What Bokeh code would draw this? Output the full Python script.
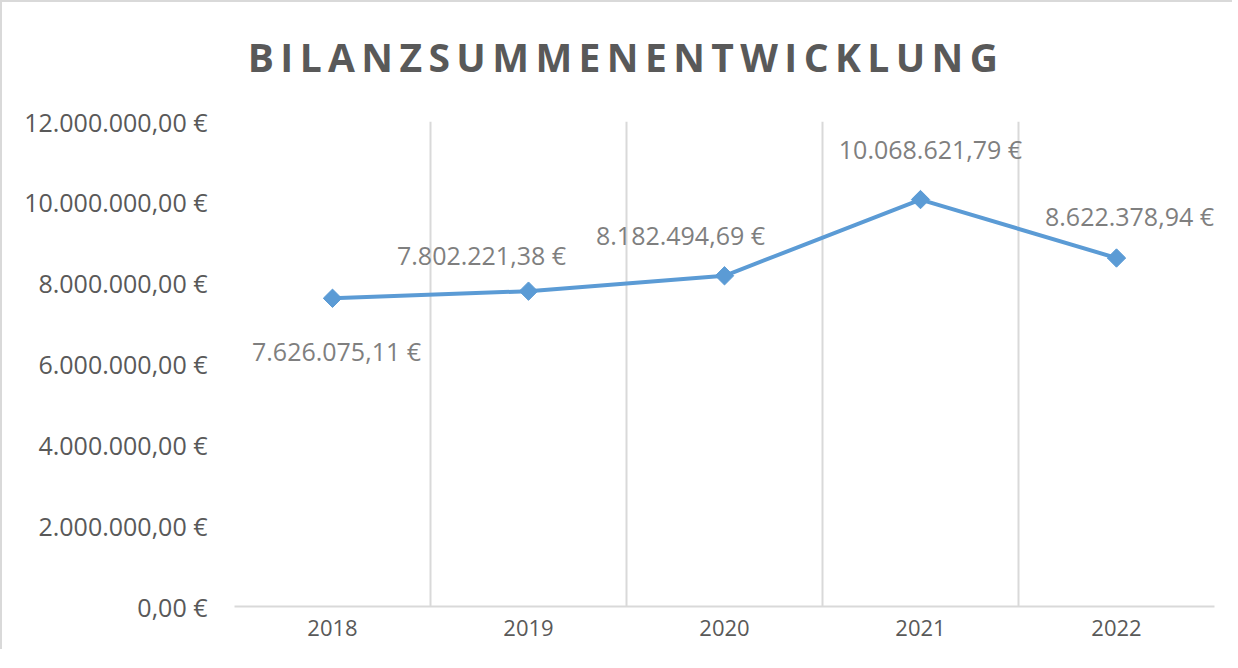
import math
from bokeh.plotting import figure
from bokeh.models import (ColumnDataSource, LabelSet, FixedTicker, Range1d,
                          CustomJSTickFormatter, Div)
from bokeh.core.properties import value
from bokeh.layouts import column
from bokeh.embed import file_html
from bokeh.resources import INLINE

# ---- data ----
years = ["2018", "2019", "2020", "2021", "2022"]
totals = [7626075.11, 7802221.38, 8182494.69, 10068621.79, 8622378.94]
y_ticks = [0, 2000000, 4000000, 6000000, 8000000, 10000000, 12000000]
title_text = "BILANZSUMMENENTWICKLUNG"

# ---- label placement (screen px, style only) ----
label_dx = [4, -47, -44, 10, 13]
label_dy = [-53, 36, 41, 51, 42]


def fmt_eur(v):
    s = f"{v:,.2f}"
    s = s.replace(",", "X").replace(".", ",").replace("X", ".")
    return s + " \u20ac"


labels = [fmt_eur(v) for v in totals]
x_pos = list(range(len(years)))          # category index positions
boundaries = [i - 0.5 for i in range(len(years) + 1)]

AXIS_GREY = "#595959"
LABEL_GREY = "#7F7F7F"
GRID = "#D9D9D9"
BLUE = "#5B9BD5"
FONT = "Open Sans"

title = Div(
    text=title_text, width=1220, height=84,
    styles={
        "font-family": FONT, "font-size": "39px", "font-weight": "bold",
        "color": AXIS_GREY, "letter-spacing": "6.4px", "text-align": "center",
        "text-indent": "18px",
        "line-height": "100px", "white-space": "nowrap",
    },
)

p = figure(
    x_range=Range1d(boundaries[0], boundaries[-1]),
    y_range=Range1d(0, 12000000),
    width=1220, height=553,
    output_backend="svg", toolbar_location=None,
    min_border_left=232, min_border_right=8,
    min_border_top=25, min_border_bottom=43,
)
p.outline_line_color = None
p.background_fill_color = "white"
p.border_fill_color = "white"

# vertical grid at category boundaries
p.xgrid.ticker = FixedTicker(ticks=boundaries)
p.xgrid.grid_line_color = GRID
p.xgrid.grid_line_width = 2
p.ygrid.visible = False

# x axis
p.xaxis.ticker = FixedTicker(ticks=x_pos)
p.xaxis.major_label_overrides = {i: y for i, y in zip(x_pos, years)}
p.xaxis.axis_line_color = GRID
p.xaxis.axis_line_width = 2
p.xaxis.major_tick_line_color = None
p.xaxis.minor_tick_line_color = None
p.xaxis.major_tick_out = 0
p.xaxis.major_tick_in = 0
p.xaxis.major_label_standoff = 13
p.xaxis.major_label_text_font = FONT
p.xaxis.major_label_text_font_size = "22px"
p.xaxis.major_label_text_color = AXIS_GREY

# y axis
p.yaxis.ticker = FixedTicker(ticks=y_ticks)
p.yaxis.formatter = CustomJSTickFormatter(code=r"""
const parts = tick.toFixed(2).split('.');
const ip = parts[0].replace(/\B(?=(\d{3})+(?!\d))/g, '.');
return ip + ',' + parts[1] + ' \u20ac';
""")
p.yaxis.axis_line_color = None
p.yaxis.major_tick_line_color = None
p.yaxis.minor_tick_line_color = None
p.yaxis.major_tick_out = 0
p.yaxis.major_tick_in = 0
p.yaxis.major_label_standoff = 27
p.yaxis.major_label_text_font = FONT
p.yaxis.major_label_text_font_size = "25px"
p.yaxis.major_label_text_color = AXIS_GREY

src = ColumnDataSource(dict(x=x_pos, year=years, total=totals, label=labels,
                            dx=label_dx, dy=label_dy))

p.line("x", "total", source=src, line_color=BLUE, line_width=4,
       line_join="round")
p.scatter("x", "total", source=src, marker="square", size=13,
          angle=math.pi / 4, fill_color=BLUE, line_color=BLUE)

p.add_layout(LabelSet(
    x="x", y="total", text="label", source=src,
    x_offset="dx", y_offset="dy",
    text_align="center", text_baseline="middle",
    text_font=value(FONT), text_font_size=value("25px"),
    text_color=LABEL_GREY,
))

layout = column(
    title, p,
    styles={"border-top": "2px solid #D9D9D9",
            "border-left": "2px solid #D9D9D9",
            "background-color": "white"},
)

open("out.html", "w").write(file_html(layout, INLINE))
